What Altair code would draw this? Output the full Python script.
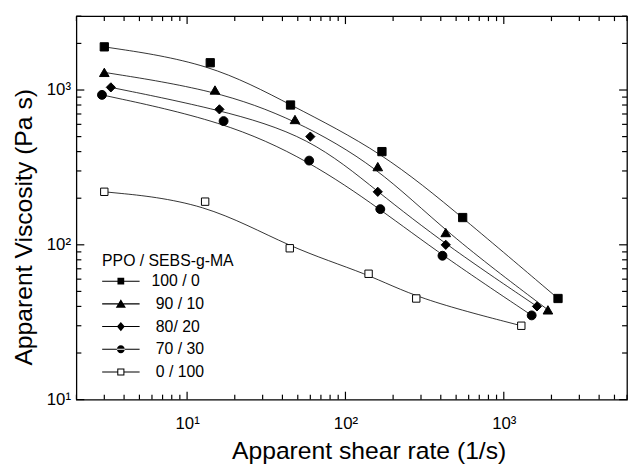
import altair as alt
import pandas as pd

# ---- data ----
series_names = ["100 / 0", "\u200b\u00a090 / 10", "\u200b\u00a080/ 20",
                "\u200b\u00a070 / 30", "\u200b\u00a00 / 100"]

x_100_0 = [3.0, 14, 45, 170, 550, 2200]
y_100_0 = [1900, 1500, 800, 400, 150, 45]
x_90_10 = [3.0, 15, 48, 160, 430, 1900]
y_90_10 = [1300, 1000, 645, 320, 120, 38]
x_80_20 = [3.3, 16, 60, 160, 430, 1620]
y_80_20 = [1040, 750, 500, 220, 100, 40]
x_70_30 = [2.9, 17, 59, 166, 410, 1500]
y_70_30 = [930, 630, 350, 170, 85, 35]
x_0_100 = [3.0, 13, 44.5, 140, 280, 1290]
y_0_100 = [220, 190, 95, 65, 45, 30]

x_tick_values = [10, 100, 1000]
x_tick_labels = ["10\u00b9", "10\u00b2", "10\u00b3"]
y_tick_values = [10, 100, 1000]
y_tick_labels = ["10\u00b9", "10\u00b2", "10\u00b3"]

# ---- styles ----
FONT = "Liberation Sans"
W, H = 557.7, 388.4
point_shapes = ["square", "triangle-up", "diamond", "circle", "square"]
point_sizes = [70, 95, 87, 81, 56]
point_fills = ["black", "black", "black", "black", "white"]

# legend symbols: line + marker, all drawn as filled outlines (unit = 19 px)
LINE_FULL = "M-1,-0.028H1V0.028H-1Z"
LINE_SPLIT = "M-1,-0.028H-0.19V0.028H-1ZM0.19,-0.028H1V0.028H0.19Z"
legend_paths = [
    LINE_FULL + "M-0.18,-0.18H0.18V0.18H-0.18Z",
    LINE_FULL + "M0,-0.25L0.27,0.2L-0.27,0.2Z",
    LINE_FULL + "M0,-0.25L0.21,0L0,0.25L-0.21,0Z",
    LINE_FULL + "M-0.21,0A0.21,0.21,0,1,0,0.21,0A0.21,0.21,0,1,0,-0.21,0Z",
    LINE_SPLIT + "M-0.19,-0.19H0.19V0.19H-0.19ZM-0.135,-0.135V0.135H0.135V-0.135Z",
]

xs_list = [x_100_0, x_90_10, x_80_20, x_70_30, x_0_100]
ys_list = [y_100_0, y_90_10, y_80_20, y_70_30, y_0_100]
rows = []
for name, xs, ys in zip(series_names, xs_list, ys_list):
    for xv, yv in zip(xs, ys):
        rows.append({"series": name, "x": xv, "y": yv})
df = pd.DataFrame(rows)

xscale = alt.Scale(type="log", domain=[2, 6000], nice=False)
yscale = alt.Scale(type="log", domain=[10, 3000], nice=False)


def label_expr(vals, labels):
    expr = "''"
    for v, l in reversed(list(zip(vals, labels))):
        expr = f"datum.value == {v} ? '{l}' : ({expr})"
    return expr


x_axis = alt.Axis(
    values=x_tick_values, labelExpr=label_expr(x_tick_values, x_tick_labels),
    title="Apparent shear rate (1/s)", titleFont=FONT, titleFontSize=25,
    titleFontWeight="normal", titleColor="black", titleX=296, titleY=60,
    titleAlign="center", titleBaseline="alphabetic",
    labelFont=FONT, labelFontSize=17, labelColor="black", labelPadding=29,
    labelBaseline="alphabetic", labelFlush=False, labelOverlap=False,
    ticks=False, tickSize=0, domain=False, grid=False,
)
y_axis = alt.Axis(
    values=y_tick_values, labelExpr=label_expr(y_tick_values, y_tick_labels),
    title="Apparent Viscosity (Pa s)", titleFont=FONT, titleFontSize=25,
    titleFontWeight="normal", titleColor="black", titleX=-45, titleY=213.4,
    titleAngle=270, titleAlign="center", titleBaseline="alphabetic",
    labelFont=FONT, labelFontSize=17, labelColor="black", labelPadding=6,
    labelBaseline="middle", labelAlign="right", labelFlush=False, labelOverlap=False,
    ticks=False, tickSize=0, domain=False, grid=False,
)

lines = alt.Chart(df).mark_line(
    interpolate="basis", color="black", strokeWidth=0.8
).encode(
    x=alt.X("x:Q", scale=xscale, axis=x_axis),
    y=alt.Y("y:Q", scale=yscale, axis=y_axis),
    detail="series:N",
)

point_layers = []
for name, shp, sz, fl in zip(series_names, point_shapes, point_sizes, point_fills):
    point_layers.append(
        alt.Chart(df).transform_filter(alt.datum.series == name).mark_point(
            shape=shp, size=sz, filled=True, fill=fl, stroke="black",
            strokeWidth=1, opacity=1
        ).encode(
            x=alt.X("x:Q", scale=xscale),
            y=alt.Y("y:Q", scale=yscale),
        )
    )

leg = alt.Legend(
    title="PPO / SEBS-g-MA", orient="none", legendX=26, legendY=240,
    direction="vertical", titleFont=FONT, titleFontSize=16,
    titleFontWeight="normal", titleColor="black", titlePadding=1,
    labelFont=FONT, labelFontSize=16, labelColor="black", labelOffset=12,
    padding=0, rowPadding=0, clipHeight=22.9, symbolSize=1444,
    symbolStrokeWidth=0, symbolFillColor="black", symbolOpacity=1, labelLimit=0,
)
legend_layer = alt.Chart(df).transform_filter("false").mark_point(
    filled=True, fill="black", strokeWidth=0, opacity=1, size=1444
).encode(
    x=alt.X("x:Q", scale=xscale),
    y=alt.Y("y:Q", scale=yscale),
    shape=alt.Shape("series:N", scale=alt.Scale(domain=series_names, range=legend_paths), legend=leg),
)

# ---- inward axis ticks (major and minor) on all four sides ----
x_minor = [m * 10 ** e for e in range(0, 4) for m in range(2, 10) if 2 <= m * 10 ** e <= 6000]
y_minor = [m * 10 ** e for e in range(1, 4) for m in range(2, 10) if 10 <= m * 10 ** e <= 3000]
MAJOR, MINOR = 8, 5
tick_layers = []
for vals, ln in [(x_tick_values, MAJOR), (x_minor, MINOR)]:
    tdf = pd.DataFrame({"v": vals})
    tick_layers.append(alt.Chart(tdf).mark_rule(color="black", strokeWidth=1.2).encode(
        x=alt.X("v:Q", scale=xscale), y=alt.value(H), y2=alt.value(H - ln)))
    tick_layers.append(alt.Chart(tdf).mark_rule(color="black", strokeWidth=1.2).encode(
        x=alt.X("v:Q", scale=xscale), y=alt.value(0), y2=alt.value(ln)))
for vals, ln in [(y_tick_values, MAJOR), (y_minor, MINOR)]:
    tdf = pd.DataFrame({"v": vals})
    tick_layers.append(alt.Chart(tdf).mark_rule(color="black", strokeWidth=1.2).encode(
        y=alt.Y("v:Q", scale=yscale), x=alt.value(0), x2=alt.value(ln)))
    tick_layers.append(alt.Chart(tdf).mark_rule(color="black", strokeWidth=1.2).encode(
        y=alt.Y("v:Q", scale=yscale), x=alt.value(W), x2=alt.value(W - ln)))

chart = alt.layer(lines, *tick_layers, *point_layers, legend_layer).properties(
    width=W, height=H,
    autosize=alt.AutoSizeParams(type="none"),
    padding={"left": 69.3, "top": 5.3, "right": 1, "bottom": 66},
).configure(background="white").configure_view(stroke="black", strokeWidth=1.3)

chart.save("out.html", embed_options={"renderer": "svg", "actions": False})
